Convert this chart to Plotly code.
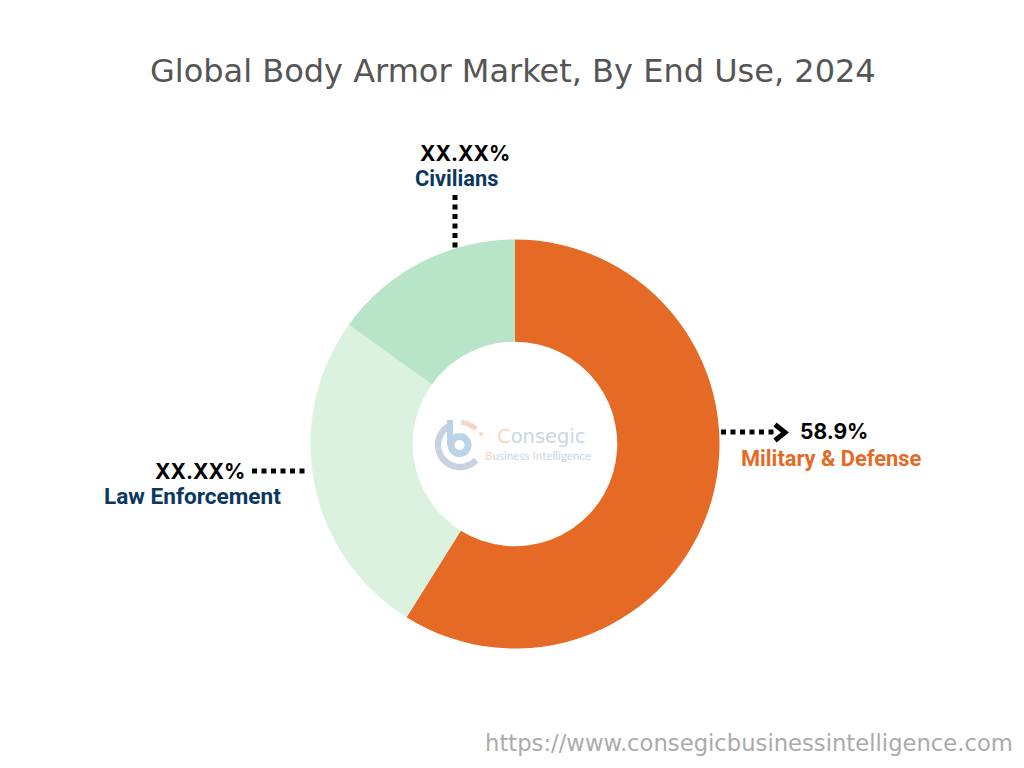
import numpy as np
import plotly.graph_objects as go

W = 1024
H = 768

segments = ["Military & Defense", "Law Enforcement", "Civilians"]
shares = [58.9, 26.0, 15.1]
colors = ["#E46A25", "#DBF3DE", "#B8E5C8"]
value_labels = ["58.9%", "XX.XX%", "XX.XX%"]


def px(x):
    return x / W


def py(y):
    return 1 - y / H


def note(x, y, text, size, color, family, anchor="left"):
    fig.add_annotation(x=px(x), y=py(y), xref="paper", yref="paper", text=text, showarrow=False,
                       xanchor=anchor, yanchor="middle", align=anchor, borderpad=0,
                       font=dict(size=size, color=color, family=family))


def leader(x0, y0, x1, y1):
    fig.add_shape(type="line", xref="paper", yref="paper", x0=px(x0), y0=py(y0), x1=px(x1), y1=py(y1),
                  line=dict(color="black", width=5, dash="5px,4.5px"))


def arc(cx, cy, r, a0, a1, color, width):
    # angles in degrees, clockwise from the top
    a = np.radians(np.linspace(a0, a1, 40))
    pts = [f"{px(cx + r * np.sin(t)):.5f},{py(cy - r * np.cos(t)):.5f}" for t in a]
    fig.add_shape(type="path", xref="paper", yref="paper", path="M" + " L".join(pts),
                  line=dict(color=color, width=width))


fig = go.Figure(go.Pie(
    labels=segments,
    values=shares,
    hole=0.5,
    sort=False,
    direction="clockwise",
    rotation=0,
    marker=dict(colors=colors, line=dict(width=0)),
    textinfo="none",
    hoverinfo="label+percent",
    showlegend=False,
    domain=dict(x=[px(310.5), px(719.5)], y=[py(648.5), py(239.5)]),
))

fig.update_layout(
    width=W,
    height=H,
    margin=dict(l=0, r=0, t=0, b=0),
    paper_bgcolor="white",
    plot_bgcolor="white",
)

note(512.5, 71, "Global Body Armor Market, By End Use, 2024", 32, "#555555", "DejaVu Sans", "center")
note(1014, 743, "https://www.consegicbusinessintelligence.com", 22.7, "#ABABAB", "DejaVu Sans", "right")

# labels
note(798.5, 431, "<b>" + value_labels[0] + "</b>", 21, "black", "Inter")
note(740, 458, "<b>" + segments[0] + "</b>", 21.8, "#E46A25", "Roboto")
note(153.5, 471, "<b>" + value_labels[1] + "</b>", 21, "black", "Inter")
note(102.5, 496, "<b>" + segments[1] + "</b>", 22.6, "#0B3763", "Roboto")
note(418.5, 153, "<b>" + value_labels[2] + "</b>", 21, "black", "Inter")
note(413.5, 179, "<b>" + segments[2] + "</b>", 21.8, "#0B3763", "Roboto")

# leader lines
leader(721, 432, 775, 432)
leader(252, 471, 306, 471)
leader(455, 195, 455, 248)
fig.add_shape(type="path", xref="paper", yref="paper",
              path=f"M{px(775)},{py(424.5)} L{px(785)},{py(432.5)} L{px(775)},{py(440.5)}",
              line=dict(color="black", width=5))

# watermark logo in the hole
arc(460, 445, 22, 133, 335, "#C9D3E0", 6.5)
arc(459.5, 445, 8.5, 0, 360, "#BCD3E6", 7)
fig.add_shape(type="line", xref="paper", yref="paper", x0=px(450), y0=py(420), x1=px(450), y1=py(445),
              line=dict(color="#BCD3E6", width=6))
arc(460, 445, 22.5, 3, 45, "#F6D6C6", 5)
fig.add_shape(type="circle", xref="paper", yref="paper", x0=px(479), y0=py(432), x1=px(483), y1=py(436),
              fillcolor="#F6D6C6", line=dict(width=0))
note(496, 436, '<span style="color:#F6D6C6">C</span>onsegic', 19.5, "#CBD6E2", "DejaVu Sans")
note(484, 455, '<span style="color:#F6D6C6">B</span>usiness <span style="color:#F6D6C6">I</span>ntelligence',
     11.7, "#CBD6E2", "Lato")

# page has a default body margin that would push the figure off the window
fig.write_html("out.html", config=dict(displayModeBar=False), post_script="document.body.style.margin='0';")
